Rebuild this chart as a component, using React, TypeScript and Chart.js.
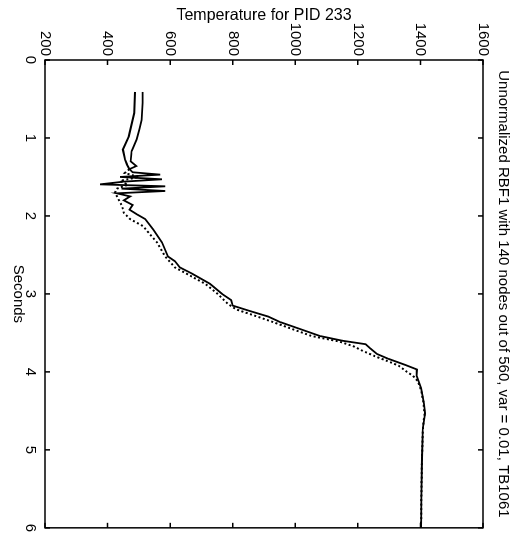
import { useEffect, useRef } from "react";
import { Chart, registerables } from "chart.js";

Chart.register(...registerables);

// Labels
const TITLE = "Unnormalized RBF1 with 140 nodes out of 560, var = 0.01, TB1061";
const X_LABEL = "Seconds";
const Y_LABEL = "Temperature for PID 233";

// Axis ranges / tick steps
const secondsRange = [0, 6];
const temperatureRange = [200, 1600];
const secondsStep = 1;
const temperatureStep = 200;

// Measured temperature (solid trace)
const measuredSeconds = [
  0.41, 0.55, 0.77, 0.89, 1.02, 1.17, 1.3, 1.36, 1.4, 1.44, 1.47, 1.5, 1.53,
  1.56, 1.595, 1.62, 1.65, 1.68, 1.71, 1.75, 1.8, 1.86, 1.92, 1.98, 2.04, 2.17,
  2.34, 2.52, 2.58, 2.66, 2.74, 2.87, 3.0, 3.08, 3.15, 3.22, 3.29, 3.36, 3.45,
  3.54, 3.6, 3.645, 3.7, 3.77, 3.83, 3.91, 3.97, 4.05, 4.21, 4.4, 4.53, 4.72,
  5.1, 5.6, 6.0,
];
const measuredTemperature = [
  512, 512, 509, 502, 493, 477, 474, 492, 470, 480, 568, 440, 574, 452, 376,
  584, 445, 584, 430, 472, 452, 480, 470, 494, 520, 545, 574, 593, 615, 631,
  670, 727, 766, 795, 800, 855, 913, 951, 1015, 1079, 1150, 1225, 1240, 1261,
  1296, 1351, 1389, 1388, 1402, 1411, 1415, 1408, 1405, 1403, 1402,
];

// RBF network output (dotted trace)
const modelSeconds = [
  0.41, 0.68, 0.98, 1.15, 1.28, 1.34, 1.4, 1.45, 1.5, 1.55, 1.6, 1.65, 1.7,
  1.79, 1.87, 1.96, 2.04, 2.13, 2.34, 2.52, 2.66, 2.87, 3.0, 3.13, 3.2, 3.29,
  3.36, 3.45, 3.54, 3.61, 3.67, 3.73, 3.8, 3.87, 3.92, 4.0, 4.05, 4.12, 4.25,
  4.4, 4.55, 4.72, 5.1, 5.6, 6.0,
];
const modelTemperature = [
  488, 485, 468, 449, 456, 462, 470, 455, 500, 440, 465, 430, 424, 435, 446,
  452, 472, 513, 558, 584, 615, 712, 752, 785, 812, 878, 928, 990, 1052, 1140,
  1185, 1215, 1255, 1300, 1330, 1357, 1376, 1392, 1403, 1410, 1413, 1408, 1405,
  1403, 1402,
];

const FONT = "'Liberation Sans', Arial, Helvetica, sans-serif";

// Closed axes box with inward-pointing ticks on all four sides
const boxPlugin = {
  id: "boxedAxes",
  afterDraw(chart: any) {
    const { ctx, chartArea: a, scales } = chart;
    const len = 5;
    ctx.save();
    ctx.strokeStyle = "#000";
    ctx.lineWidth = 1.5;
    ctx.strokeRect(a.left, a.top, a.right - a.left, a.bottom - a.top);
    ctx.beginPath();
    for (const t of scales.x.ticks) {
      const px = scales.x.getPixelForValue(t.value);
      ctx.moveTo(px, a.bottom);
      ctx.lineTo(px, a.bottom - len);
      ctx.moveTo(px, a.top);
      ctx.lineTo(px, a.top + len);
    }
    for (const t of scales.y.ticks) {
      const py = scales.y.getPixelForValue(t.value);
      ctx.moveTo(a.left, py);
      ctx.lineTo(a.left + len, py);
      ctx.moveTo(a.right, py);
      ctx.lineTo(a.right - len, py);
    }
    ctx.stroke();
    ctx.restore();
  },
};

function TemperatureChart() {
  const ref = useRef<HTMLCanvasElement | null>(null);

  useEffect(() => {
    if (!ref.current) return;
    const measured = measuredSeconds.map((s, i) => ({ x: s, y: measuredTemperature[i] }));
    const model = modelSeconds.map((s, i) => ({ x: s, y: modelTemperature[i] }));

    const chart = new Chart(ref.current, {
      type: "line",
      data: {
        datasets: [
          {
            label: "measured",
            data: measured,
            borderColor: "#000",
            borderWidth: 1.8,
            pointRadius: 0,
            tension: 0,
          },
          {
            label: "RBF1",
            data: model,
            borderColor: "#000",
            borderWidth: 2,
            pointRadius: 0,
            tension: 0,
            segment: {
              borderDash: (c: any) => (c.p0.parsed.x < 1.4 ? [] : [2, 2.5]),
            },
          },
        ],
      },
      options: {
        responsive: false,
        animation: false,
        events: [],
        layout: { padding: { top: 0, left: 0, right: 8, bottom: 0 } },
        plugins: {
          legend: { display: false },
          tooltip: { enabled: false },
          title: {
            display: true,
            fullSize: false,
            text: TITLE,
            color: "#000",
            font: { family: FONT, size: 15, weight: "normal" },
            padding: { top: 9, bottom: 11 },
          },
        },
        scales: {
          x: {
            type: "linear",
            min: secondsRange[0],
            max: secondsRange[1],
            grid: { display: false, drawTicks: false },
            border: { display: false },
            ticks: {
              stepSize: secondsStep,
              autoSkip: false,
              maxRotation: 0,
              color: "#000",
              padding: 6,
              font: { family: FONT, size: 15 },
              callback: (v: any) => String(v),
            },
            title: {
              display: true,
              text: X_LABEL,
              color: "#000",
              font: { family: FONT, size: 15 },
              padding: { top: 0, bottom: 9 },
            },
            afterFit: (s: any) => {
              s.height = 45;
            },
          },
          y: {
            type: "linear",
            min: temperatureRange[0],
            max: temperatureRange[1],
            grid: { display: false, drawTicks: false },
            border: { display: false },
            ticks: {
              stepSize: temperatureStep,
              autoSkip: false,
              color: "#000",
              padding: 4,
              font: { family: FONT, size: 15 },
              callback: (v: any) => String(v),
            },
            title: {
              display: true,
              text: Y_LABEL,
              color: "#000",
              font: { family: FONT, size: 16 },
              padding: { top: 6, bottom: 0 },
            },
            afterFit: (s: any) => {
              s.width = 60;
            },
          },
        },
      },
      plugins: [boxPlugin],
    });
    return () => chart.destroy();
  }, []);

  return <canvas ref={ref} width={538} height={521} style={{ display: "block" }} />;
}

export default function App() {
  // The plot is drawn landscape and turned a quarter turn clockwise on the page.
  return (
    <div
      style={{
        position: "absolute",
        left: 0,
        top: 0,
        width: 538,
        height: 521,
        background: "#fff",
        transformOrigin: "0 0",
        transform: "translate(521px, 0px) rotate(90deg)",
      }}
    >
      <TemperatureChart />
    </div>
  );
}
